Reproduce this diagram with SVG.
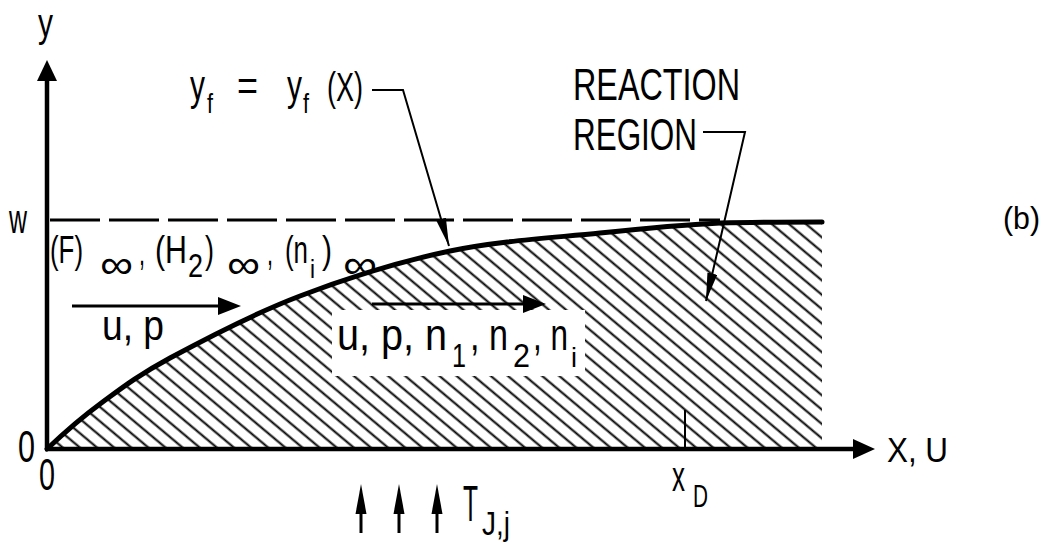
<svg xmlns="http://www.w3.org/2000/svg" width="1046" height="543" viewBox="0 0 1046 543">
  <style>
    text { font-family: "Liberation Sans", Arial, sans-serif; fill: #000; }
    .ax { stroke: #000; stroke-width: 4.5; fill: none; }
    .ld { stroke: #000; stroke-width: 2; fill: none; }
    .fl { stroke: #000; stroke-width: 3; fill: none; }
    .hd { fill: #000; stroke: none; }
  </style>
  <defs>
    <pattern id="hatch" width="11" height="11" patternUnits="userSpaceOnUse" patternTransform="rotate(40)">
      <line x1="0" y1="5.5" x2="11" y2="5.5" stroke="#000" stroke-width="2"/>
    </pattern>
    <marker id="lead" markerUnits="userSpaceOnUse" markerWidth="30" markerHeight="12" refX="28" refY="5" orient="auto">
      <path d="M0,0 L28,5 L0,10 Z" fill="#000"/>
    </marker>
  </defs>

  <g id="region">
    <path d="M47,449 C55.8,440.7 79.5,419 100,404 C120.5,389 136.7,376 170,358 C203.3,340 253.3,313.8 300,296 C346.7,278.2 400,261.5 450,251 C500,240.5 555,237.7 600,233 C645,228.3 683,224.8 720,223 C757,222 805,222 822,222 L822,449 Z" fill="url(#hatch)"/>
    <rect x="332" y="310" width="253" height="66" fill="#fff"/>
  </g>

  <g id="w-line">
    <line x1="50" y1="220" x2="720" y2="220" stroke="#000" stroke-width="3" stroke-dasharray="50,9"/>
  </g>

  <g id="front-curve">
    <path d="M47,449 C55.8,440.7 79.5,419 100,404 C120.5,389 136.7,376 170,358 C203.3,340 253.3,313.8 300,296 C346.7,278.2 400,261.5 450,251 C500,240.5 555,237.7 600,233 C645,228.3 683,224.8 720,223 C757,222 805,222 822,222" stroke="#000" stroke-width="5" fill="none" stroke-linecap="round"/>
  </g>

  <g id="axes">
    <line class="ax" x1="47" y1="449" x2="47" y2="78"/>
    <polygon class="hd" points="47,60 37,81 57,81"/>
    <line class="ax" x1="45" y1="449" x2="856" y2="449"/>
    <polygon class="hd" points="875,449 853,439 853,459"/>
    <line x1="685" y1="410" x2="685" y2="449" stroke="#000" stroke-width="2"/>
  </g>

  <g id="connectors">
    <polyline class="ld" points="372,90 403,90 449,246" marker-end="url(#lead)"/>
    <polyline class="ld" points="703,132 745,132 706,301" marker-end="url(#lead)"/>
    <line class="fl" x1="72" y1="306" x2="222" y2="306"/>
    <polygon class="hd" points="241,306 218,297 218,315"/>
    <line class="fl" x1="372" y1="304" x2="526" y2="304"/>
    <polygon class="hd" points="546,304 523,295 523,313"/>
    <line class="fl" x1="361" y1="510" x2="361" y2="533"/>
    <polygon class="hd" points="361,484 355.5,514 366.5,514"/>
    <line class="fl" x1="399" y1="510" x2="399" y2="533"/>
    <polygon class="hd" points="399,484 393.5,514 404.5,514"/>
    <line class="fl" x1="437" y1="510" x2="437" y2="533"/>
    <polygon class="hd" points="437,484 431.5,514 442.5,514"/>
  </g>

  <g id="axis-labels">
    <text x="38" y="37" font-size="40" textLength="15" lengthAdjust="spacingAndGlyphs">y</text>
    <text x="9" y="233" font-size="40" textLength="18" lengthAdjust="spacingAndGlyphs">w</text>
    <text x="18" y="462" font-size="44" textLength="17" lengthAdjust="spacingAndGlyphs">0</text>
    <text x="39" y="490" font-size="44" textLength="16" lengthAdjust="spacingAndGlyphs">0</text>
    <text x="887" y="462" font-size="35" textLength="61" lengthAdjust="spacingAndGlyphs">X, U</text>
    <text font-size="42"><tspan x="672" y="491" textLength="13" lengthAdjust="spacingAndGlyphs">x</tspan><tspan x="693" y="507" font-size="31" textLength="15" lengthAdjust="spacingAndGlyphs">D</tspan></text>
    <text x="1003" y="229" font-size="32" textLength="37" lengthAdjust="spacingAndGlyphs">(b)</text>
  </g>

  <g id="front-label">
    <text font-size="42"><tspan x="190" y="100" textLength="15" lengthAdjust="spacingAndGlyphs">y</tspan><tspan x="207" y="113" font-size="28" textLength="6" lengthAdjust="spacingAndGlyphs">f</tspan><tspan x="237" y="100" textLength="21" lengthAdjust="spacingAndGlyphs">=</tspan><tspan x="287" y="100" textLength="15" lengthAdjust="spacingAndGlyphs">y</tspan><tspan x="303" y="113" font-size="28" textLength="6" lengthAdjust="spacingAndGlyphs">f</tspan><tspan x="327" y="101" font-size="40" textLength="36" lengthAdjust="spacingAndGlyphs">(X)</tspan></text>
  </g>

  <g id="reaction-label">
    <text font-size="44"><tspan x="573" y="100" textLength="167" lengthAdjust="spacingAndGlyphs">REACTION</tspan><tspan x="573" y="150" textLength="124" lengthAdjust="spacingAndGlyphs">REGION</tspan></text>
  </g>

  <g id="freestream-label">
    <text font-size="38"><tspan x="50" y="263" textLength="33" lengthAdjust="spacingAndGlyphs">(F)</tspan><tspan x="100" y="278" font-size="40" textLength="33" lengthAdjust="spacingAndGlyphs">∞</tspan><tspan x="139" y="265" textLength="6" lengthAdjust="spacingAndGlyphs">,</tspan><tspan x="155" y="263" textLength="32" lengthAdjust="spacingAndGlyphs">(H</tspan><tspan x="188" y="277" font-size="33" textLength="15" lengthAdjust="spacingAndGlyphs">2</tspan><tspan x="205" y="263" textLength="9" lengthAdjust="spacingAndGlyphs">)</tspan><tspan x="227" y="278" font-size="40" textLength="33" lengthAdjust="spacingAndGlyphs">∞</tspan><tspan x="267" y="265" textLength="6" lengthAdjust="spacingAndGlyphs">,</tspan><tspan x="285" y="263" textLength="23" lengthAdjust="spacingAndGlyphs">(n</tspan><tspan x="310" y="278" font-size="26" textLength="5" lengthAdjust="spacingAndGlyphs">i</tspan><tspan x="322" y="263" textLength="10" lengthAdjust="spacingAndGlyphs">)</tspan><tspan x="343" y="278" font-size="40" textLength="34" lengthAdjust="spacingAndGlyphs">∞</tspan></text>
  </g>

  <g id="flow-label-left">
    <text x="102" y="340" font-size="42" textLength="62" lengthAdjust="spacingAndGlyphs">u, p</text>
  </g>

  <g id="flow-label-inner">
    <text font-size="44"><tspan x="337" y="350" textLength="110" lengthAdjust="spacingAndGlyphs">u, p, n</tspan><tspan x="452" y="367" font-size="34" textLength="14" lengthAdjust="spacingAndGlyphs">1</tspan><tspan x="470" y="350" textLength="38" lengthAdjust="spacingAndGlyphs">, n</tspan><tspan x="513" y="367" font-size="34" textLength="17" lengthAdjust="spacingAndGlyphs">2</tspan><tspan x="533" y="350" textLength="35" lengthAdjust="spacingAndGlyphs">, n</tspan><tspan x="571" y="367" font-size="28" textLength="6" lengthAdjust="spacingAndGlyphs">i</tspan></text>
  </g>

  <g id="heat-label">
    <text font-size="50"><tspan x="463" y="521" textLength="15" lengthAdjust="spacingAndGlyphs">T</tspan><tspan x="482" y="535" font-size="34" textLength="28" lengthAdjust="spacingAndGlyphs">J,j</tspan></text>
  </g>
</svg>
